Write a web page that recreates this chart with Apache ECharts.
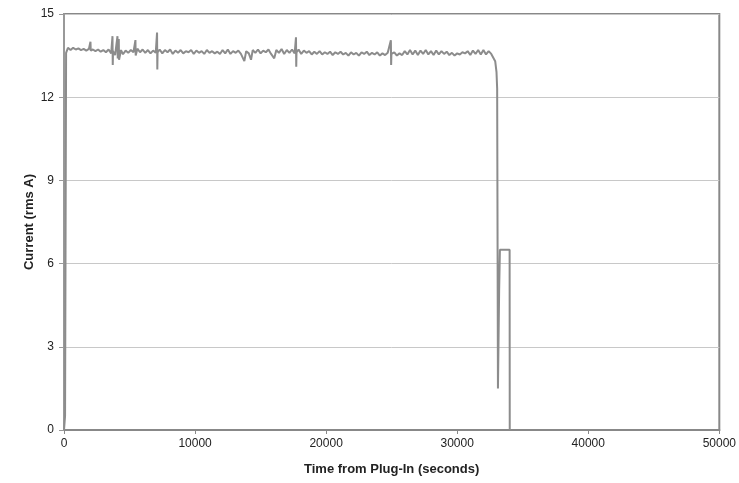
<!DOCTYPE html>
<html>
<head>
<meta charset="utf-8">
<script src="https://cdn.jsdelivr.net/npm/echarts@6/dist/echarts.min.js"></script>
<style>html,body{margin:0;padding:0;background:#fff}#c{width:739px;height:483px}</style>
</head>
<body>
<div id="c"></div>
<script>
// Time from plug-in (seconds)
var timeSec = [0,80,160,300,500,700,900,1100,1300,1500,1700,1900,2000,2020,2040,2200,2400,2600,2800,3000,3200,3400,3600,3700,3720,3740,3900,4080,4100,4180,4200,4350,4500,4700,4900,5100,5300,5450,5470,5600,5800,6000,6200,6400,6600,6800,7000,7100,7120,7140,7300,7500,7700,7900,8100,8300,8500,8700,8900,9100,9300,9500,9700,9900,10100,10300,10500,10700,10900,11100,11300,11500,11700,11900,12100,12300,12500,12700,12900,13100,13300,13500,13760,13900,14100,14270,14400,14600,14800,15000,15200,15400,15600,15800,16040,16200,16400,16600,16800,17000,17200,17400,17600,17700,17720,17740,17900,18100,18300,18500,18700,18900,19100,19300,19500,19700,19900,20100,20300,20500,20700,20900,21100,21300,21500,21700,21900,22100,22300,22500,22700,22900,23100,23300,23500,23700,23900,24100,24300,24500,24700,24940,24960,24980,25200,25400,25600,25800,26000,26200,26400,26600,26800,27000,27200,27400,27600,27800,28000,28200,28400,28600,28800,29000,29200,29400,29600,29800,30000,30200,30400,30600,30800,31000,31200,31400,31600,31800,32000,32200,32400,32600,32750,32900,33000,33050,33110,33200,33260,34000,34010];
// Current (rms A)
var currentA = [0,0.5,13.6,13.78,13.70,13.78,13.72,13.76,13.70,13.74,13.68,13.74,13.70,14.0,13.68,13.72,13.66,13.72,13.64,13.70,13.62,13.72,13.58,14.2,13.16,13.66,13.52,14.2,13.4,14.1,13.35,13.7,13.55,13.68,13.6,13.7,13.62,14.06,13.5,13.75,13.62,13.72,13.6,13.7,13.58,13.68,13.6,14.33,13.0,13.62,13.72,13.58,13.7,13.62,13.72,13.56,13.68,13.6,13.7,13.58,13.66,13.62,13.7,13.56,13.68,13.6,13.66,13.56,13.7,13.6,13.66,13.58,13.64,13.56,13.7,13.58,13.72,13.56,13.66,13.6,13.68,13.56,13.3,13.66,13.58,13.35,13.7,13.6,13.72,13.58,13.68,13.62,13.72,13.56,13.4,13.7,13.6,13.74,13.56,13.7,13.6,13.72,13.58,14.16,13.1,13.62,13.72,13.56,13.68,13.6,13.66,13.54,13.64,13.56,13.66,13.54,13.62,13.56,13.64,13.52,13.62,13.56,13.64,13.54,13.6,13.5,13.62,13.54,13.6,13.5,13.62,13.56,13.64,13.52,13.6,13.54,13.62,13.5,13.58,13.52,13.6,14.05,13.16,13.56,13.62,13.5,13.58,13.52,13.66,13.54,13.7,13.54,13.68,13.52,13.68,13.56,13.7,13.54,13.66,13.52,13.68,13.54,13.66,13.56,13.64,13.52,13.6,13.5,13.58,13.54,13.62,13.58,13.66,13.52,13.68,13.56,13.7,13.54,13.7,13.54,13.66,13.56,13.5,13.3,12.9,12.3,1.5,5.0,6.5,6.5,0];

var xTicks = [0,10000,20000,30000,40000,50000];
var yTicks = [0,3,6,9,12,15];

var data = timeSec.map(function(t,i){return [t,currentA[i]];});
var chart = echarts.init(document.getElementById('c'));
var font = 'Liberation Sans, Arial, sans-serif';
chart.setOption({
  animation:false,
  backgroundColor:'#fff',
  grid:{left:64,right:19,top:14,bottom:53,show:true,borderColor:'#888',borderWidth:2,backgroundColor:'transparent'},
  xAxis:{
    type:'value',min:xTicks[0],max:xTicks[xTicks.length-1],interval:xTicks[1]-xTicks[0],
    name:'Time from Plug-In (seconds)',nameLocation:'middle',nameGap:33,nameMoveOverlap:false,
    nameTextStyle:{fontFamily:font,fontSize:13,fontWeight:'bold',color:'#222'},
    axisLine:{show:true,lineStyle:{color:'#888',width:2}},
    axisTick:{show:true,length:4,lineStyle:{color:'#888'}},
    axisLabel:{fontFamily:font,fontSize:12,color:'#222',margin:8,formatter:function(v){return String(v);}},
    splitLine:{show:false}
  },
  yAxis:{
    type:'value',min:yTicks[0],max:yTicks[yTicks.length-1],interval:yTicks[1]-yTicks[0],
    name:'Current (rms A)',nameLocation:'middle',nameGap:28,nameRotate:90,nameMoveOverlap:false,
    nameTextStyle:{fontFamily:font,fontSize:13,fontWeight:'bold',color:'#222'},
    axisLine:{show:true,lineStyle:{color:'#999',width:2}},
    axisTick:{show:true,length:5,lineStyle:{color:'#999'}},
    axisLabel:{fontFamily:font,fontSize:12,color:'#222',margin:10},
    splitLine:{show:true,lineStyle:{color:'#c8c8c8',width:1}}
  },
  series:[{
    type:'line',data:data,showSymbol:false,symbol:'none',
    lineStyle:{color:'#8c8c8c',width:2},
    z:3
  }]
});
</script>
</body>
</html>
